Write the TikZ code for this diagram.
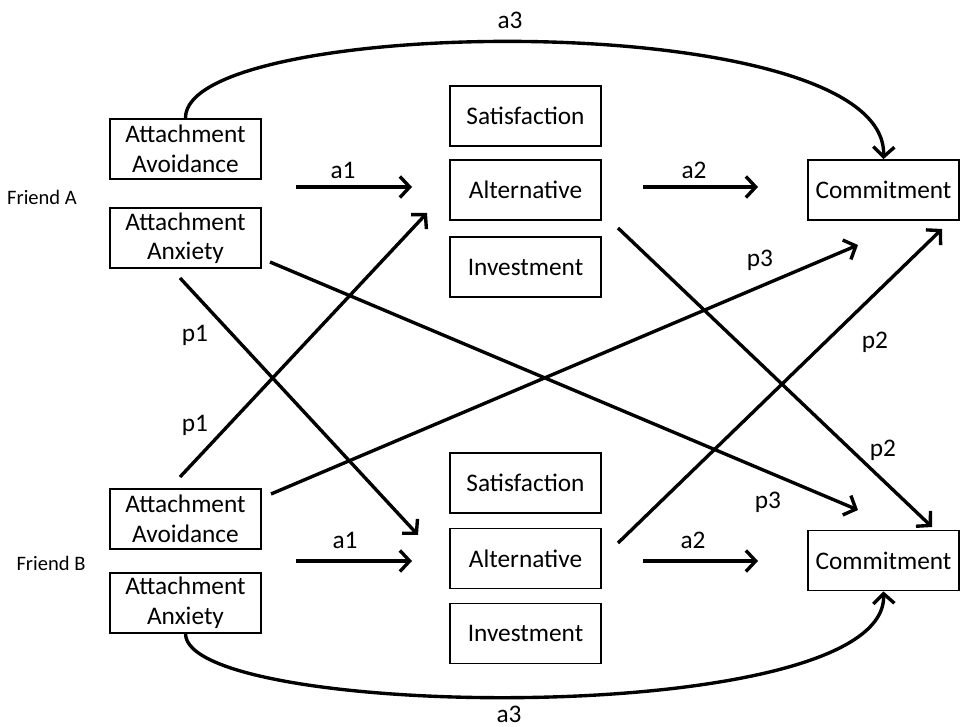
\documentclass[tikz,border=0pt]{standalone}
\usepackage{fontspec}
\setmainfont{Carlito}
\usetikzlibrary{positioning, arrows.meta}

\begin{document}
\begin{tikzpicture}[x=0.025cm, y=-0.025cm, on grid,
	>={Straight Barb[length=7pt, width=15pt]},
	box/.style={draw, line width=1.3pt, minimum width=3.78cm, minimum height=1.5cm, align=center, inner sep=1pt, font=\fontsize{18}{21}\selectfont},
	lbl/.style={font=\fontsize{18}{21}\selectfont},
	friend/.style={font=\fontsize{14.6}{17}\selectfont},
	link/.style={->, line width=2.4pt}]
	\useasboundingbox (0,0) rectangle (961,727);

	% Friend A
	\node[friend]		(FA)				at (42,197)		{Friend A};
	\node[box]			(AvA)				at (185.5,149)	{Attachment\\Avoidance};
	\node[box]			(AnxA) [below=2.225cm of AvA]		{Attachment\\Anxiety};
	\node[box]			(AltA)				at (525.5,190)	{Alternative};
	\node[box]			(SatA) [above=1.85cm of AltA]		{Satisfaction};
	\node[box]			(InvA) [below=1.925cm of AltA]		{Investment};
	\node[box]			(ComA)				at (883.5,190)	{Commitment};

	% Friend B
	\node[friend]		(FB)				at (51,563)		{Friend B};
	\node[box]			(AvB)				at (185.5,519)	{Attachment\\Avoidance};
	\node[box]			(AnxB) [below=2.09cm of AvB]		{Attachment\\Anxiety};
	\node[box]			(AltB)				at (525.5,558.5)	{Alternative};
	\node[box]			(SatB) [above=1.89cm of AltB]		{Satisfaction};
	\node[box]			(InvB) [below=1.875cm of AltB]		{Investment};
	\node[box]			(ComB)				at (883.5,560.5)	{Commitment};

	% free ends of the paths
	\coordinate (a1As) at (296,187);	\coordinate (a1Ae) at (412,187);
	\coordinate (a2As) at (643,187);	\coordinate (a2Ae) at (758,187);
	\coordinate (a1Bs) at (296,561);	\coordinate (a1Be) at (412,561);
	\coordinate (a2Bs) at (643,561);	\coordinate (a2Be) at (758,561);
	\coordinate (p1As) at (180,278);	\coordinate (p1Ae) at (418,535);
	\coordinate (p1Bs) at (180,477);	\coordinate (p1Be) at (427,213);
	\coordinate (p3As) at (270,262);	\coordinate (p3Ae) at (858,510);
	\coordinate (p3Bs) at (271,494);	\coordinate (p3Be) at (858,245);
	\coordinate (p2As) at (618,228);	\coordinate (p2Ae) at (932,527);
	\coordinate (p2Bs) at (618,543);	\coordinate (p2Be) at (942,229);

	\draw[link] (a1As) -- (a1Ae);
	\draw[link] (a2As) -- (a2Ae);
	\draw[link] (a1Bs) -- (a1Be);
	\draw[link] (a2Bs) -- (a2Be);
	\draw[link] (p1As) -- (p1Ae);
	\draw[link] (p1Bs) -- (p1Be);
	\draw[link] (p3As) -- (p3Ae);
	\draw[link] (p3Bs) -- (p3Be);
	\draw[link] (p2As) -- (p2Ae);
	\draw[link] (p2Bs) -- (p2Be);
	\draw[link] (AvA.north) .. controls (184,15) and (888,5) .. (ComA.north);
	\draw[link] (AnxB.south) .. controls (185,720) and (888,730) .. (ComB.south);

	% path labels
	\node[lbl] (la1A) at (343,170) {a1};
	\node[lbl] (la2A) at (694,170) {a2};
	\node[lbl] (la1B) at (345,540) {a1};
	\node[lbl] (la2B) at (693,540) {a2};
	\node[lbl] (la3A) at (510,20)  {a3};
	\node[lbl] (la3B) at (509,714) {a3};
	\node[lbl] (lp1A) at (195,335) {p1};
	\node[lbl] (lp1B) at (195,425) {p1};
	\node[lbl] (lp3B) at (760,260) {p3};
	\node[lbl] (lp3A) at (768,502) {p3};
	\node[lbl] (lp2B) at (875,342) {p2};
	\node[lbl] (lp2A) at (883,450) {p2};
\end{tikzpicture}
\end{document}
